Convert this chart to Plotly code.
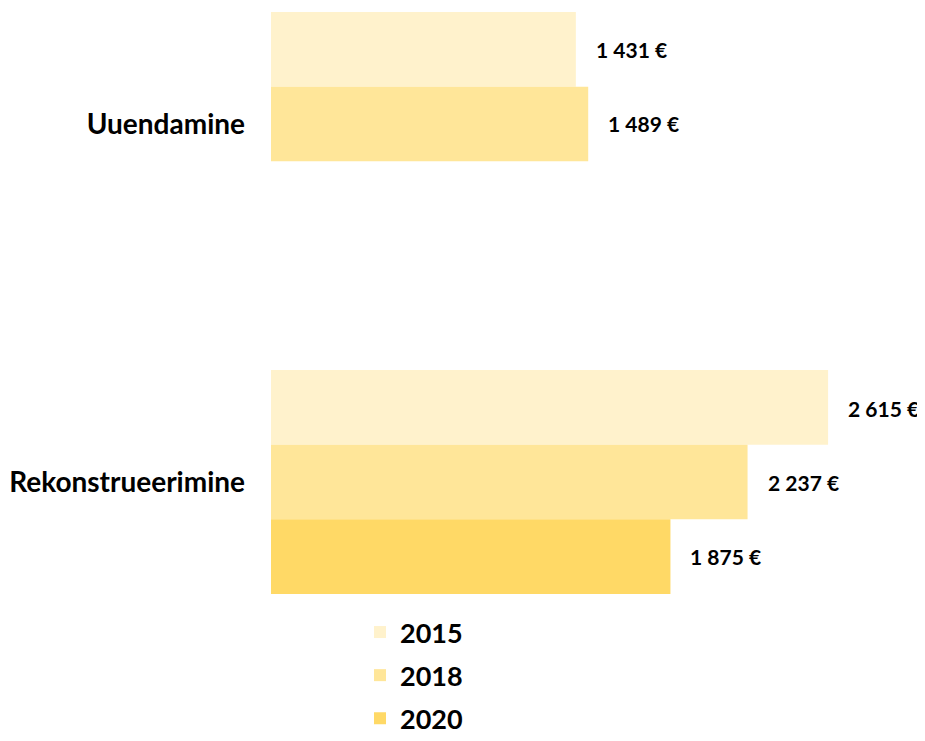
import plotly.graph_objects as go

# categories (top to bottom) and yearly values, € per m²
categories = ["Uuendamine", "Rekonstrueerimine"]
years = ["2015", "2018", "2020"]
values = {
    "2015": [1431, 2615],
    "2018": [1489, 2237],
    "2020": [None, 1875],
}
colors = {"2015": "#FFF2CC", "2018": "#FFE699", "2020": "#FFD966"}

FONT = "Lato"
W, H = 917, 733  # page body adds an 8px offset


def fmt(v):
    return f"{v:,}".replace(",", " ") + " €"


fig = go.Figure()
for yr in years:
    fig.add_trace(go.Bar(
        y=categories,
        x=values[yr],
        name=yr,
        legendgroup=yr,
        orientation="h",
        marker=dict(color=colors[yr], line=dict(width=0)),
        textposition="none",
        hoverinfo="skip",
    ))

# value labels placed just right of each bar
offsets = {"2015": -1, "2018": 0, "2020": 1}
for yr in years:
    for cat, v in zip(categories, values[yr]):
        if v is None:
            continue
        fig.add_annotation(
            x=v, y=cat, text=fmt(v), showarrow=False,
            xanchor="left", xshift=18,
            yshift=-offsets[yr] * 74,
            font=dict(family=FONT, size=21, color="black", weight="bold"),
        )

fig.update_layout(
    width=W, height=H,
    barmode="group",
    bargap=0.374,
    bargroupgap=0.0,
    plot_bgcolor="white",
    paper_bgcolor="white",
    margin=dict(l=263, r=10, t=4, b=147, autoexpand=False),
    font=dict(family=FONT, color="black"),
    legend=dict(
        orientation="v",
        x=352 / W, xref="container", xanchor="left",
        y=1 - 600 / H, yref="container", yanchor="top",
        font=dict(family=FONT, size=27, weight="bold"),
        tracegroupgap=5,
        itemclick=False,
    ),
    showlegend=True,
)
fig.update_xaxes(range=[0, 3023], visible=False, showgrid=False, zeroline=False)
fig.update_yaxes(
    categoryorder="array", categoryarray=categories,
    range=[1.3128, -0.3128],
    automargin=False,
    showgrid=False, zeroline=False, showline=False, ticks="",
    ticklabelstandoff=25,
    tickfont=dict(family=FONT, size=28, weight="bold", color="black"),
)

fig.write_html("out.html")
